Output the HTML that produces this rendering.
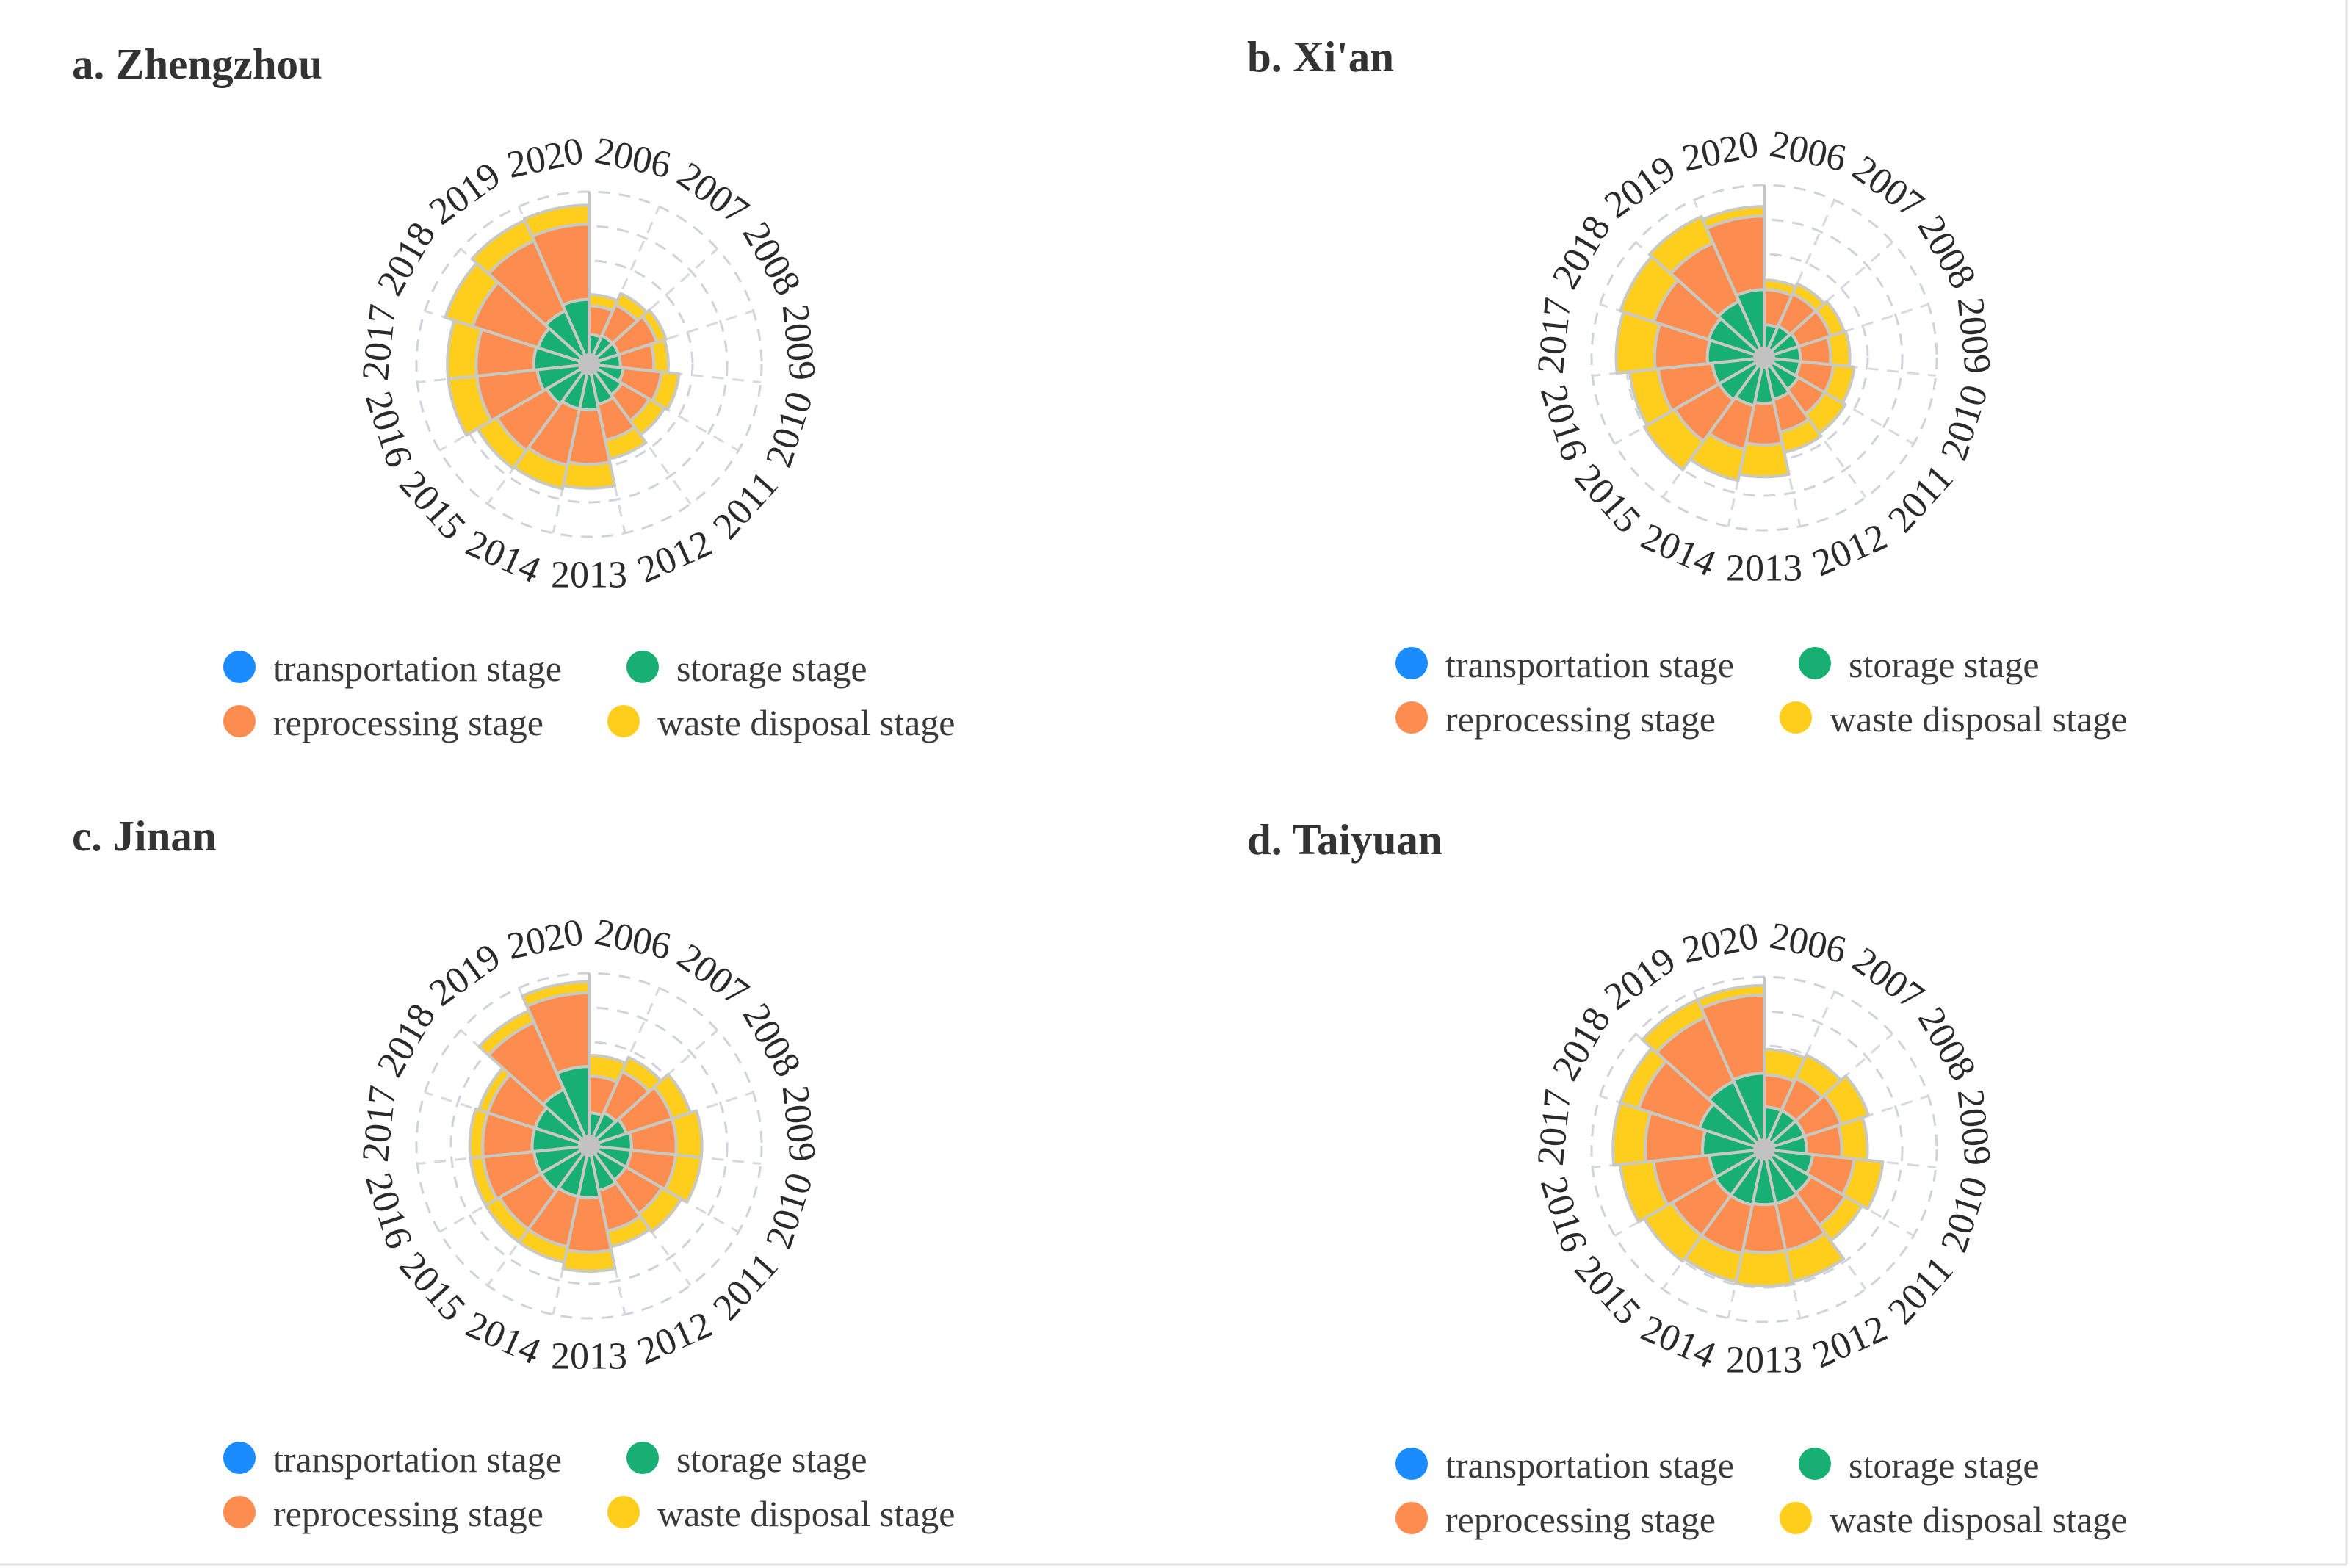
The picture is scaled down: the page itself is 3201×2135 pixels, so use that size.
<!DOCTYPE html>
<html><head><meta charset="utf-8"><style>
html,body{margin:0;padding:0;background:#fff;}
svg{display:block;}
text{font-family:"Liberation Serif",serif;}
</style></head><body>
<svg id="fig" width="3201" height="2135" viewBox="0 0 3201 2135" xmlns="http://www.w3.org/2000/svg">
<rect x="0" y="0" width="3201" height="2135" fill="#fff"/>
<line x1="3195" y1="0" x2="3195" y2="2130" stroke="#e2e2e2" stroke-width="3"/>
<line x1="0" y1="2130" x2="3195" y2="2130" stroke="#e2e2e2" stroke-width="3"/>
</svg>
<script>
const years = ["2006","2007","2008","2009","2010","2011","2012","2013","2014","2015","2016","2017","2018","2019","2020"];
const stageNames = ["transportation stage","storage stage","reprocessing stage","waste disposal stage"];
const axisMax = 540;
const gridTicks = [108,216,324,432,540];

const zzTransport = [3,3,3,3,3,3,3,3,3,3,3,3,3,3,3];
const zzStorage = [90,95,95,95,105,115,125,140,140,150,160,170,165,180,200];
const zzReprocessing = [90,105,125,105,120,100,115,170,180,180,190,180,215,240,235];
const zzWaste = [35,40,30,45,55,55,60,75,75,70,90,90,90,70,60];

const xaTransport = [3,3,3,3,3,3,3,3,3,3,3,3,3,3,3];
const xaStorage = [100,105,110,110,110,120,130,140,150,160,160,175,180,190,210];
const xaReprocessing = [110,110,105,95,105,95,105,130,140,160,170,165,180,200,230];
const xaWaste = [30,35,45,60,65,75,65,100,100,110,90,120,110,90,30];

const jnTransport = [3,3,3,3,3,3,3,3,3,3,3,3,3,3,3];
const jnStorage = [100,110,120,130,130,130,140,160,160,170,170,175,175,190,245];
const jnReprocessing = [115,140,150,140,140,130,130,170,160,150,160,155,155,230,230];
const jnWaste = [65,50,60,80,80,70,50,60,50,50,40,40,30,40,35];

const tyTransport = [3,3,3,3,3,3,3,3,3,3,3,3,3,3,3];
const tyStorage = [130,130,130,130,150,165,170,170,175,175,170,190,210,230,235];
const tyReprocessing = [100,110,120,110,130,125,150,150,155,155,175,180,200,220,245];
const tyWaste = [80,80,90,80,90,60,100,105,90,100,105,100,60,60,30];

const NS = "http://www.w3.org/2000/svg";
const svg = document.getElementById("fig");
const colors = ["#1a8cff","#17b072","#fd8d4f","#ffcd1c"];
const R = 235;
function rScale(v){ return v / axisMax * R; }
function pt(cx,cy,r,deg){ const a=deg*Math.PI/180; return [cx + r*Math.sin(a), cy - r*Math.cos(a)]; }
function mk(tag, attrs, parent){ const e=document.createElementNS(NS,tag); for(const k in attrs) e.setAttribute(k,attrs[k]); (parent||svg).appendChild(e); return e; }
function sectorPath(cx,cy,r0,r1,a0,a1){
  const p1=pt(cx,cy,r1,a0), p2=pt(cx,cy,r1,a1), p3=pt(cx,cy,r0,a1), p4=pt(cx,cy,r0,a0);
  return `M${p4[0]},${p4[1]} L${p1[0]},${p1[1]} A${r1},${r1} 0 0 1 ${p2[0]},${p2[1]} L${p3[0]},${p3[1]} A${r0},${r0} 0 0 0 ${p4[0]},${p4[1]} Z`;
}

function drawPanel(key, title, tx, ty, cx, cy, lx, ly, series){
  const g = mk("g",{});
  
  
  const t = mk("text",{x:tx,y:ty,"font-size":59,"font-weight":"bold",fill:"#333","dominant-baseline":"central"},g);
  t.textContent = title;
  
  
  gridTicks.forEach(v=>{
    const c = mk("circle",{cx:cx,cy:cy,r:rScale(v),fill:"none",stroke:"#cfd3da","stroke-width":3,"stroke-dasharray":"16 12"},g);
    
    
  });
  years.forEach((y,i)=>{
    const p = pt(cx,cy,R,i*24);
    const l = mk("line",{x1:cx,y1:cy,x2:p[0],y2:p[1],stroke:"#d6d9de","stroke-width":3,"stroke-dasharray":"16 12"},g);
    
    
  });
  years.forEach((y,i)=>{
    let base = 0;
    series.forEach((arr,si)=>{
      const v = arr[i];
      const path = mk("path",{d:sectorPath(cx,cy,rScale(base),rScale(base+v),i*24,(i+1)*24),fill:colors[si],stroke:"#c9c9c4","stroke-width":4,"stroke-linejoin":"round"},g);
      
      
      base += v;
    });
  });
  const ax = mk("line",{x1:cx,y1:cy,x2:cx,y2:cy-R,stroke:"#c4c4c4","stroke-width":4},g);
  
  
  const hub = mk("circle",{cx:cx,cy:cy,r:15,fill:"#c2c2c2"},g);
  
  
  years.forEach((y,i)=>{
    const a = i*24+12;
    const p = pt(cx,cy,287,a);
    const rot = (a>90 && a<270) ? a-180 : a;
    const lab = mk("text",{x:p[0],y:p[1],"font-size":52,fill:"#2a2a2a","text-anchor":"middle","dominant-baseline":"central",transform:`rotate(${rot} ${p[0]} ${p[1]})`},g);
    lab.textContent = y;
    
    
  });
  const pos = [[lx,ly],[lx+549,ly],[lx,ly+74],[lx+523,ly+74]];
  [0,1,2,3].forEach((si,k)=>{
    const [x,y] = pos[k];
    const d = mk("circle",{cx:x,cy:y,r:22,fill:colors[si]},g);
    
    
    const tt = mk("text",{x:x+46,y:y+2,"font-size":50,fill:"#3a3a3a","dominant-baseline":"central"},g);
    tt.textContent = stageNames[si];
    
    
  });
}

drawPanel("zhengzhou","a. Zhengzhou",98,87,802,496,326,908,[zzTransport,zzStorage,zzReprocessing,zzWaste]);
drawPanel("xian","b. Xi'an",1698,77,2402,487,1922,903,[xaTransport,xaStorage,xaReprocessing,xaWaste]);
drawPanel("jinan","c. Jinan",98,1138,802,1560,326,1985,[jnTransport,jnStorage,jnReprocessing,jnWaste]);
drawPanel("taiyuan","d. Taiyuan",1698,1143,2402,1565,1922,1993,[tyTransport,tyStorage,tyReprocessing,tyWaste]);
</script>
</body></html>
